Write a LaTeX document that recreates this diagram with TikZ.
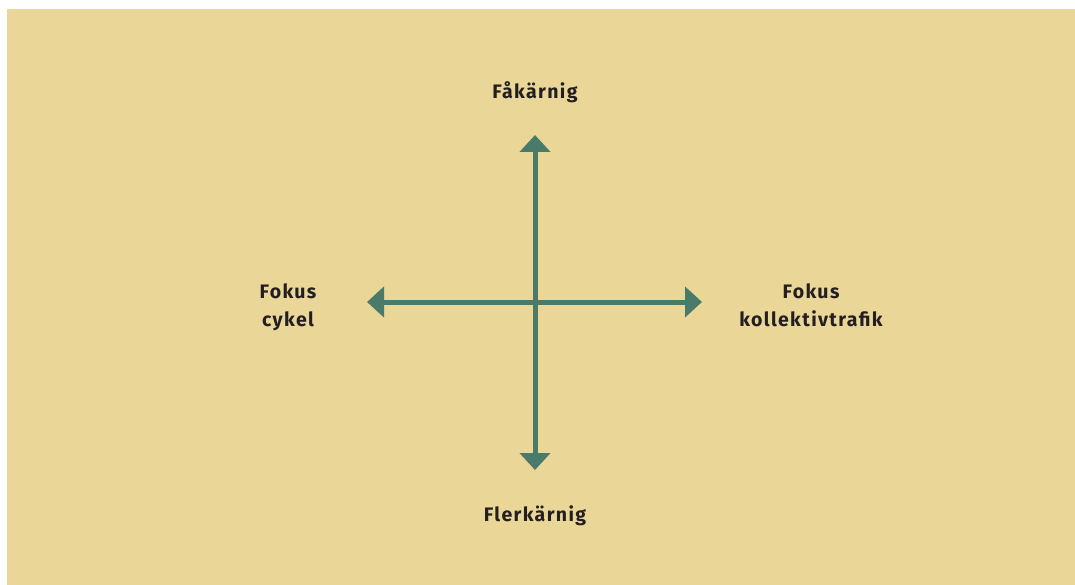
\documentclass[tikz,border=0pt]{standalone}
\usepackage{fontspec}
\setmainfont{Fira Sans}[LetterSpace=7]
\usetikzlibrary{arrows.meta}
\definecolor{sand}{HTML}{EAD696}
\definecolor{axisgreen}{HTML}{4A7A6A}
\definecolor{inkdark}{HTML}{231F20}

\begin{document}
\begin{tikzpicture}[x=1pt,y=-1pt]
	\tikzstyle{axis}=[draw=axisgreen,line width=5pt,{Triangle[width=30pt,length=17pt]}-{Triangle[width=30pt,length=17pt]}]
	\tikzstyle{annot}=[text=inkdark,font=\fontsize{19.5}{28}\selectfont\bfseries,align=center]

	% Canvas and background
	\useasboundingbox (0,0) rectangle (1075,585);
	\fill[white] (0,0) rectangle (1075,585);
	\fill[sand] (7,9) rectangle (1075,585);

	% Ends of the two axes
	\coordinate (top) at (535,135);
	\coordinate (bottom) at (535,470);
	\coordinate (left) at (367,302);
	\coordinate (right) at (702,302);

	% Draw the axes
	\path[axis] (top) -- (bottom);
	\path[axis] (left) -- (right);

	% Annotate the axes
	\node[annot] (few) at (535,92) {Fåkärnig};
	\node[annot] (many) at (535,516) {Flerkärnig};
	\node[annot] (bike) at (288,307) {Fokus\\cykel};
	\node[annot] (transit) at (811,305) {Fokus\\kollektivtrafik};
\end{tikzpicture}
\end{document}
